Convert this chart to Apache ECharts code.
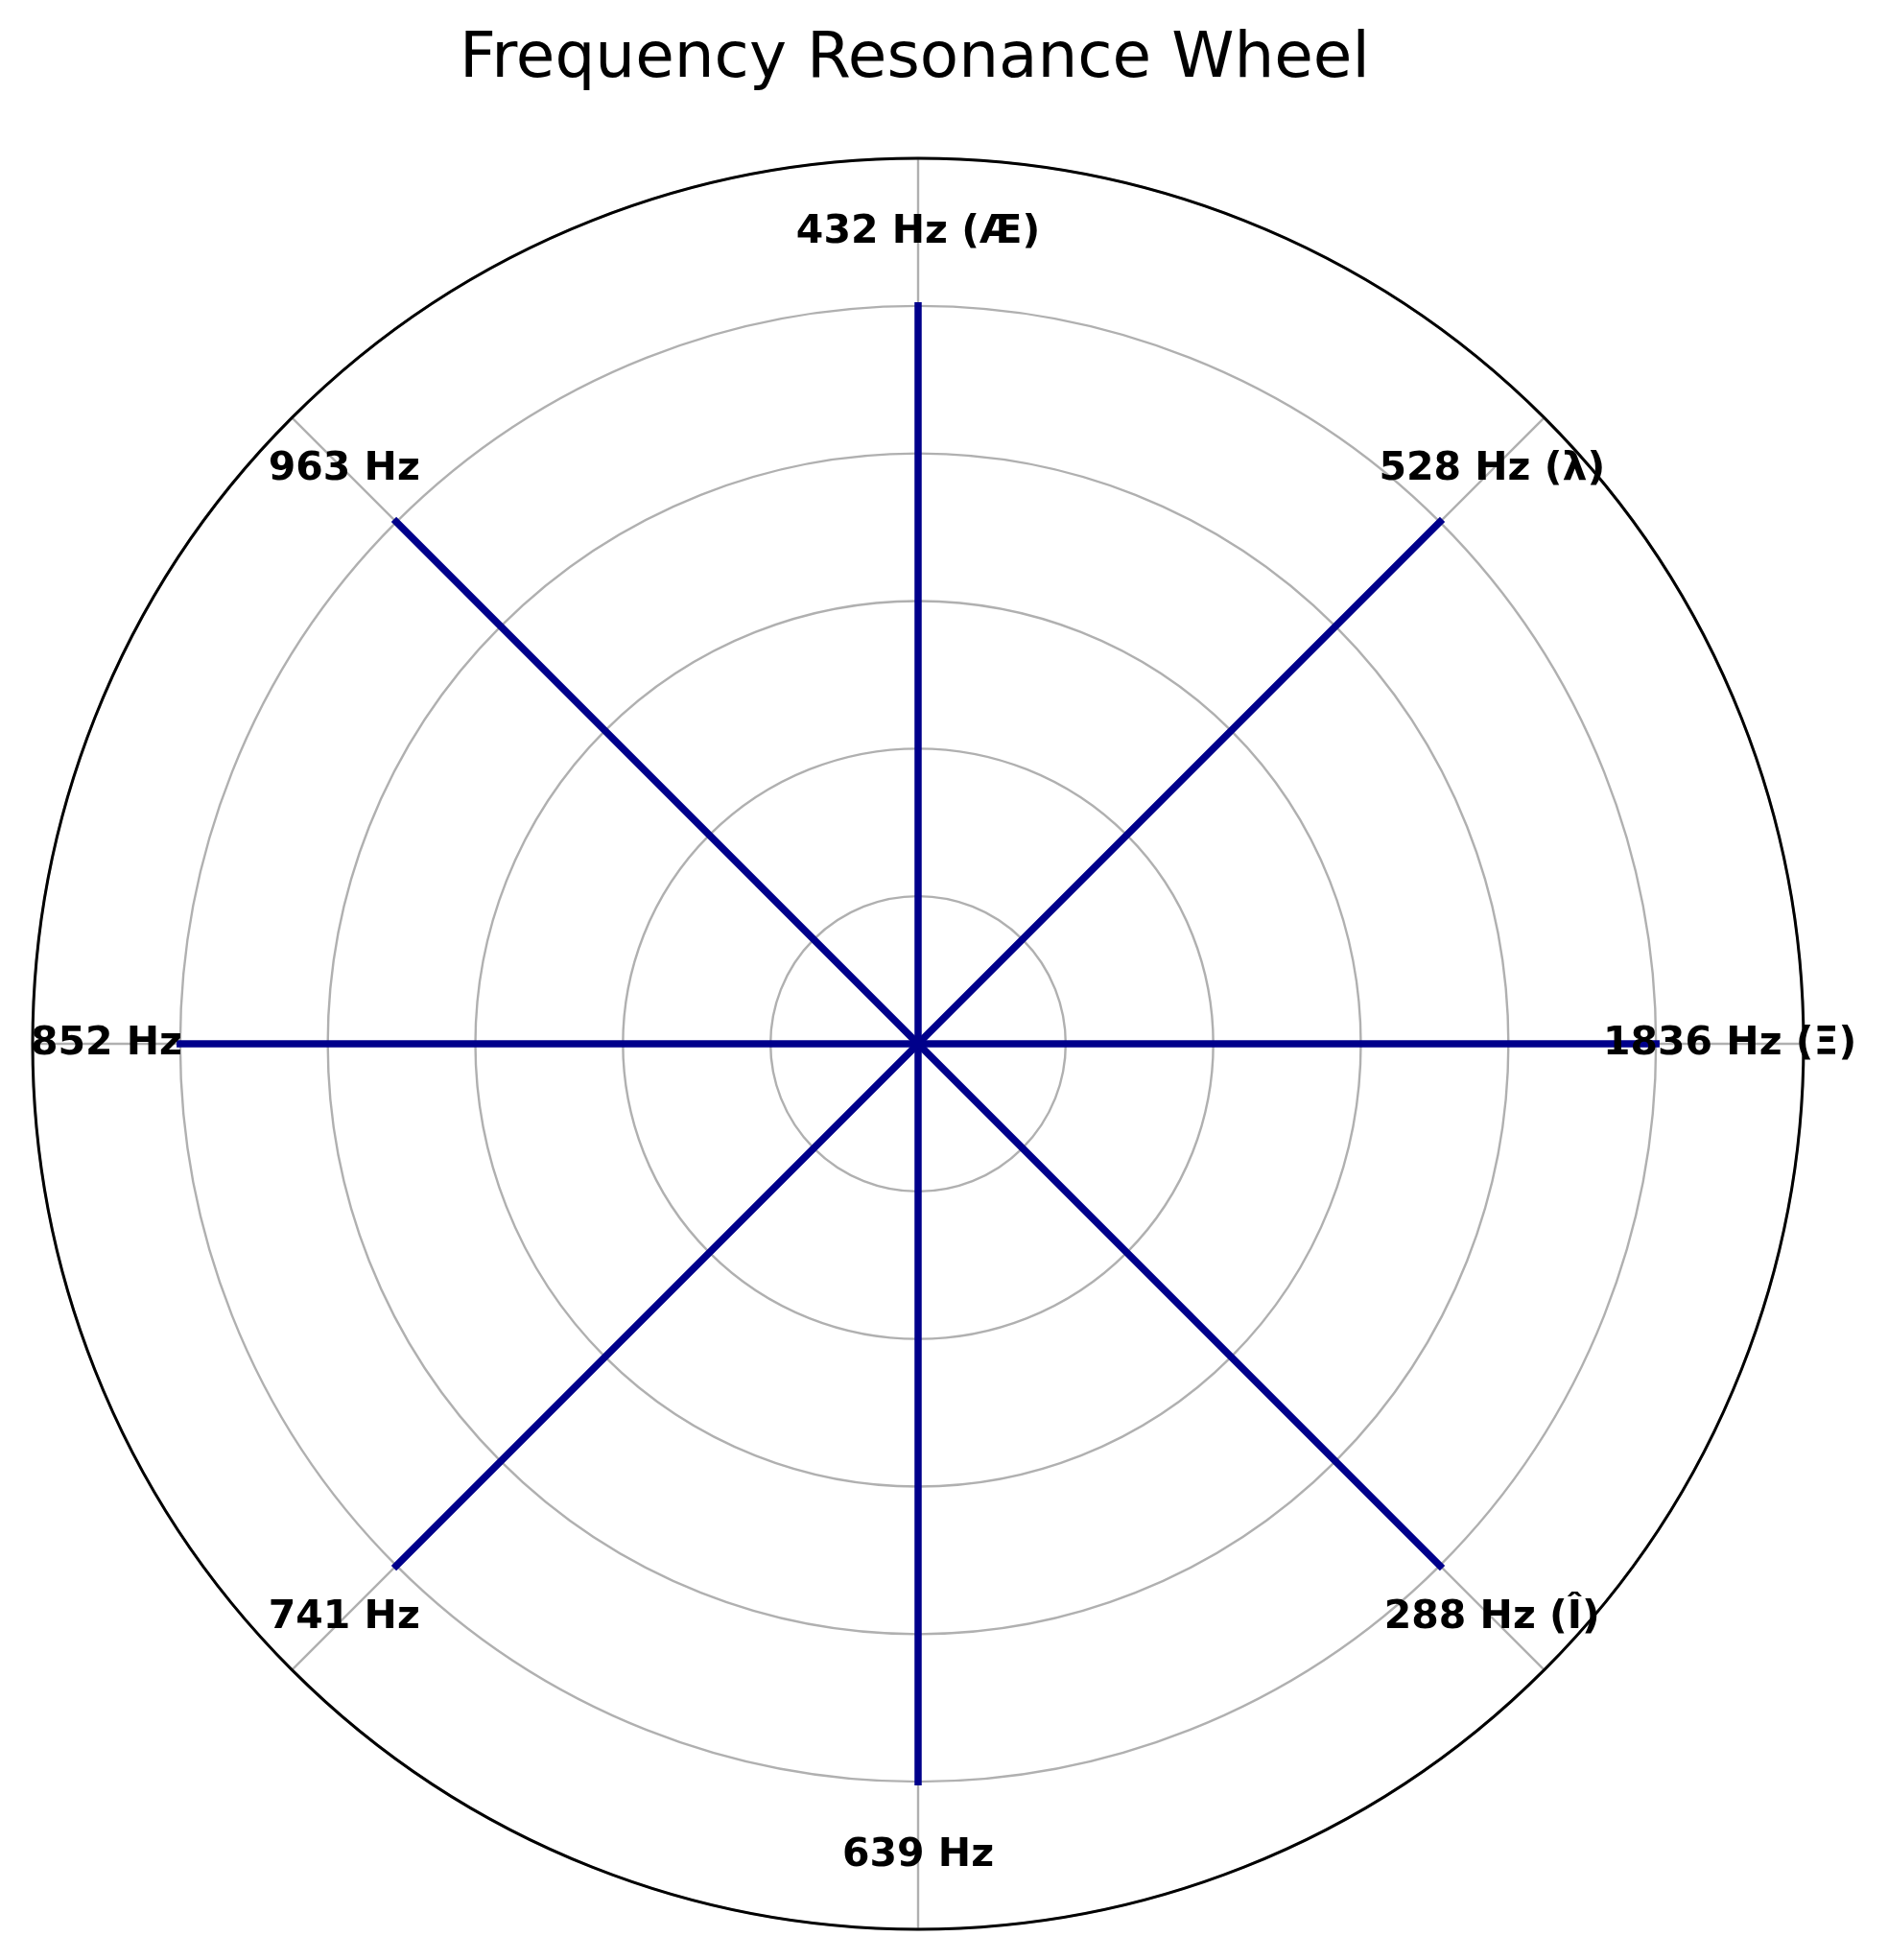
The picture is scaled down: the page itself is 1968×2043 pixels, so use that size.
<!DOCTYPE html>
<html>
<head>
<meta charset="utf-8">
<script src="https://cdn.jsdelivr.net/npm/echarts@6/dist/echarts.min.js"></script>
<style>html,body{margin:0;padding:0;background:#fff;}#chart{width:1968px;height:2043px;}</style>
</head>
<body>
<div id="chart"></div>
<script>
// Categories, clockwise from the top
const categories = ['432 Hz (Æ)', '528 Hz (λ)', '1836 Hz (Ξ)', '288 Hz (Î)', '639 Hz', '741 Hz', '852 Hz', '963 Hz'];
// Spoke lengths (radius values)
const values = [5, 5, 5, 5, 5, 5, 5, 5];
// Radius at which the category labels are drawn
const labelRadius = [5.5, 5.5, 5.5, 5.5, 5.5, 5.5, 5.5, 5.5];
const radiusTicks = [0, 1, 2, 3, 4, 5, 6];

// each category sits on an equal share of the full circle
const step = 360 / categories.length;
const angleOf = i => i * step;

const chart = echarts.init(document.getElementById('chart'));

const lineSeries = categories.map((c, i) => ({
  type: 'line',
  coordinateSystem: 'polar',
  data: [[0, angleOf(i)], [values[i], angleOf(i)]],
  symbol: 'none',
  clip: false,
  lineStyle: { color: '#00008B', width: 7.5, cap: 'square' },
  z: 3,
  silent: true
}));

const labelSeries = {
  type: 'scatter',
  coordinateSystem: 'polar',
  clip: false,
  data: categories.map((c, i) => ({ value: [labelRadius[i], angleOf(i)], name: c })),
  symbol: 'circle',
  symbolSize: 1,
  itemStyle: { color: '#000', opacity: 0 },
  label: {
    show: true,
    position: 'inside',
    formatter: p => p.name,
    color: '#000000',
    opacity: 1,
    textBorderWidth: 0,
    fontFamily: 'DejaVu Sans',
    fontWeight: 'bold',
    fontSize: 41
  },
  z: 10,
  silent: true
};

chart.setOption({
  animation: false,
  backgroundColor: '#fff',
  title: {
    text: 'Frequency Resonance Wheel',
    left: 474,
    top: 25,
    textStyle: { fontFamily: 'DejaVu Sans', fontWeight: 'normal', fontSize: 66, color: '#000' }
  },
  polar: { center: [957, 1088], radius: 923 },
  angleAxis: {
    type: 'value',
    min: 0,
    max: 360,
    interval: step,
    startAngle: 90,
    clockwise: true,
    axisLine: { show: true, lineStyle: { color: '#000', width: 3 } },
    axisTick: { show: false },
    axisLabel: { show: false },
    splitLine: { show: true, lineStyle: { color: '#b0b0b0', width: 2.4 } }
  },
  radiusAxis: {
    type: 'value',
    min: radiusTicks[0],
    max: radiusTicks[radiusTicks.length - 1],
    interval: 1,
    axisLine: { show: false },
    axisTick: { show: false },
    axisLabel: { show: false },
    splitLine: { show: true, lineStyle: { color: '#b0b0b0', width: 2.4 } }
  },
  series: [...lineSeries, labelSeries]
});
</script>
</body>
</html>
